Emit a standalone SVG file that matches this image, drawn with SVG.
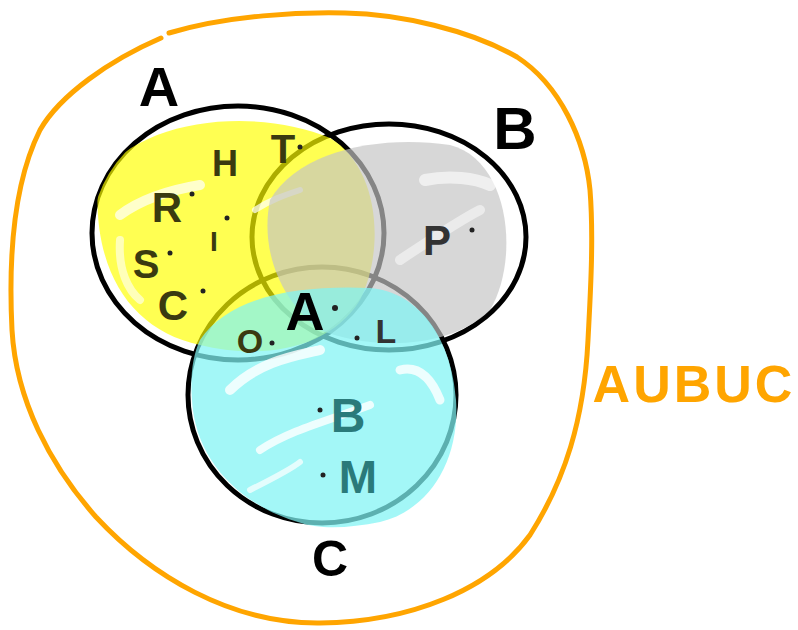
<svg xmlns="http://www.w3.org/2000/svg" width="798" height="630" viewBox="0 0 798 630">
<style>
.ring{fill:none;stroke:#000;stroke-width:5;stroke-linecap:round}
.lbl{font-family:"Liberation Sans",Arial,sans-serif;text-anchor:middle;font-weight:bold}
.dot{fill:#222}
.streak{fill:none;stroke:#fff;stroke-linecap:round}
</style>
<defs>
<clipPath id="clipA"><ellipse cx="238" cy="233" rx="146" ry="127"/></clipPath>
<clipPath id="clipB"><ellipse cx="389" cy="237" rx="137" ry="113"/></clipPath>
</defs>
<rect width="798" height="630" fill="#fff"/>

<g id="universe">
<path d="M169,33 C230,15 300,12 345,13 C400,14 470,30 517,57 C560,85 585,140 590,190 C594,240 590,300 588,340 C584,420 565,480 530,535 C490,590 410,622 320,623 C230,624 150,575 96,517 C50,465 16,400 12,330 C8,250 15,180 40,130 C60,95 110,60 161,38" fill="none" stroke="#ffa500" stroke-width="5" stroke-linecap="round"/>
<text class="lbl" x="694" y="402" font-size="52" fill="#ffa500" letter-spacing="3">AUBUC</text>
</g>

<g id="set-A">
<ellipse class="ring" cx="238" cy="233" rx="146" ry="127"/>
<text class="lbl" x="159" y="106" font-size="56">A</text>
</g>
<g id="set-B">
<ellipse class="ring" cx="389" cy="237" rx="137" ry="113"/>
<text class="lbl" x="515" y="149" font-size="60">B</text>
</g>
<g id="set-C">
<ellipse class="ring" cx="322" cy="395" rx="134" ry="128"/>
<text class="lbl" x="330" y="576" font-size="50">C</text>
</g>

<g id="fills">
<g clip-path="url(#clipA)" opacity="0.68">
<path d="M98,180 C140,115 260,108 330,138 C380,168 385,250 360,300 C330,350 260,360 200,345 C130,330 92,270 98,180 Z" fill="#ffff00"/>
</g>
<path class="streak" d="M120,215 C140,200 170,190 200,185" stroke-width="10" opacity="0.7"/>
<path class="streak" d="M255,210 C270,200 285,195 300,190" stroke-width="6" opacity="0.7"/>
<path class="streak" d="M120,240 C118,270 128,290 140,300" stroke-width="8" opacity="0.6"/>
<g clip-path="url(#clipB)" opacity="0.68">
<path d="M270,200 C300,150 380,135 450,145 C510,160 520,260 490,310 C450,350 370,350 320,330 C280,300 260,250 270,200 Z" fill="#c4c4c4"/>
</g>
<path class="streak" d="M425,180 C450,175 475,178 490,185" stroke-width="12" opacity="0.6"/>
<path class="streak" d="M400,260 C430,240 460,220 480,210" stroke-width="10" opacity="0.5"/>
<path d="M200,340 C230,295 300,285 370,288 C420,292 452,340 456,400 C460,460 430,510 380,522 C350,528 320,530 298,522 C240,505 195,460 192,400 C190,375 193,355 200,340 Z" fill="#80f4f4" opacity="0.72"/>
<path class="streak" d="M230,390 C260,360 300,355 320,350" stroke-width="10" opacity="0.8"/>
<path class="streak" d="M260,450 C290,430 330,420 370,405" stroke-width="8" opacity="0.8"/>
<path class="streak" d="M400,370 C420,365 432,380 440,400" stroke-width="9" opacity="0.8"/>
<path class="streak" d="M250,490 C270,480 290,470 300,462" stroke-width="6" opacity="0.7"/>
</g>

<g id="elements">
<text class="lbl" x="167" y="222" font-size="42" fill="#3a3a10">R</text><circle class="dot" cx="192" cy="194" r="2.5"/>
<text class="lbl" x="225" y="176" font-size="36" fill="#3a3a10">H</text>
<text class="lbl" x="283" y="163" font-size="40" fill="#3a3a10">T</text><circle class="dot" cx="300" cy="147" r="2.5"/>
<text class="lbl" x="146" y="278" font-size="40" fill="#3a3a10">S</text><circle class="dot" cx="170" cy="253" r="2.5"/>
<text class="lbl" x="173" y="320" font-size="42" fill="#3a3a10">C</text><circle class="dot" cx="203" cy="291" r="2.5"/>
<text class="lbl" x="214" y="251" font-size="28" fill="#3a3a10">I</text><circle class="dot" cx="227" cy="218" r="2.5"/>
<text class="lbl" x="305" y="330" font-size="54" fill="#000">A</text><circle class="dot" cx="335" cy="308" r="3"/>
<text class="lbl" x="250" y="353" font-size="34" fill="#3a3a10">O</text><circle class="dot" cx="272" cy="343" r="2.5"/>
<text class="lbl" x="386" y="343" font-size="34" fill="#333">L</text><circle class="dot" cx="357" cy="338" r="2.5"/>
<text class="lbl" x="437" y="255" font-size="42" fill="#333">P</text><circle class="dot" cx="472" cy="230" r="2.5"/>
<text class="lbl" x="348" y="432" font-size="48" fill="#2a7a7a">B</text><circle class="dot" cx="320" cy="410" r="2.5"/>
<text class="lbl" x="358" y="493" font-size="46" fill="#2a7a7a">M</text><circle class="dot" cx="323" cy="475" r="2.5"/>
</g>
</svg>
